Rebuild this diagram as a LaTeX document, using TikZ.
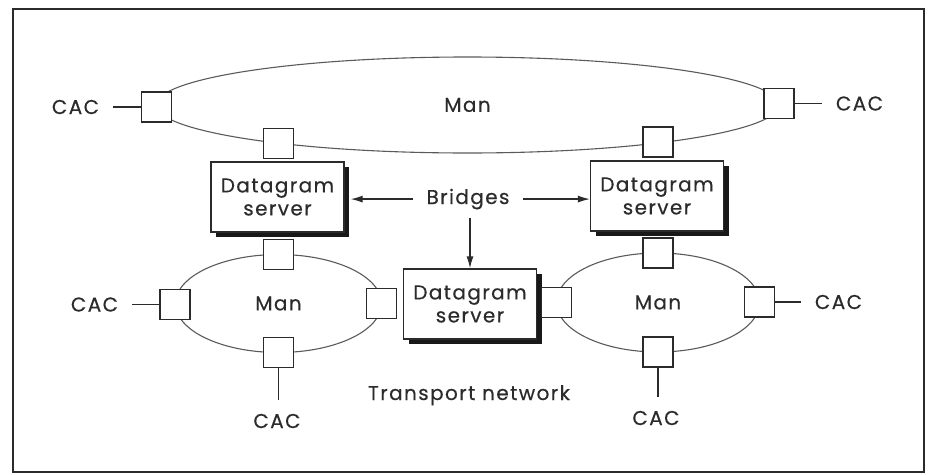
\documentclass[tikz,border=0pt]{standalone}
\usepackage{fontspec}
\setmainfont[LetterSpace=7,FakeBold=0.4]{Poppins}
\usetikzlibrary{shapes.geometric,arrows.meta,shadows}
\definecolor{ink}{HTML}{2B2B2B}
\definecolor{ringc}{HTML}{5A5A5A}
\begin{document}
\begin{tikzpicture}[x=1pt,y=-1pt,
  every node/.style={text=ink, font=\fontsize{20}{23}\selectfont},
  ringn/.style={draw=ringc, line width=1.1pt, ellipse, inner sep=0pt},
  port/.style={draw=ink, fill=white, line width=1.6pt, minimum size=30pt, inner sep=0pt},
  dgs/.style={draw=ink, fill=white, line width=1.3pt, minimum width=133pt, minimum height=70pt, align=center, inner sep=0pt,
    general shadow={fill=black!90, shadow xshift=5pt, shadow yshift=-5pt}},
  cac/.style={inner sep=0pt, outer sep=14pt},
  link/.style={draw=ink, line width=1.1pt},
  arr/.style={draw=ink, line width=1.3pt, -{Latex[length=12pt,width=7pt]}},
]
\useasboundingbox (0,0) rectangle (931,474);
\draw[ink, line width=1.2pt] (13,9) rectangle (924,472);

% rings
\node[ringn, minimum width=623pt, minimum height=96pt] (manT) at (467.5,105) {Man};
\node[ringn, minimum width=206pt, minimum height=98pt] (manL) at (278.5,303.5) {Man};
\node[ringn, minimum width=203pt, minimum height=99pt] (manR) at (658,302.5) {Man};

% datagram servers
\node[dgs] (dgL) at (277.5,197) {Datagram\\server};
\node[dgs] (dgR) at (657,196) {Datagram\\server};
\node[dgs] (dgC) at (470,304) {Datagram\\server};

% ports
\node[port] (pTL) at (156.5,107) {};
\node[port] (pTR) at (779,103.5) {};
\node[port] (pTBL) at (278.5,143.5) {};
\node[port] (pTBR) at (658,142) {};
\node[port] (pLt) at (278.5,254.5) {};
\node[port] (pLl) at (175,304.5) {};
\node[port] (pLr) at (381.5,303.5) {};
\node[port] (pLb) at (278.5,352.5) {};
\node[port] (pRt) at (658,253) {};
\node[port] (pRl) at (556.5,302.5) {};
\node[port] (pRr) at (759.5,302) {};
\node[port] (pRb) at (658,352) {};

% CAC labels
\node[cac] (cTL) at (75.5,107) {CAC};
\node[cac] (cTR) at (859.5,103.5) {CAC};
\node[cac] (cLl) at (94.5,304.5) {CAC};
\node[cac] (cRr) at (838.5,302) {CAC};
\node[cac] (cLb) at (277,421) {CAC};
\node[cac] (cRb) at (656,418) {CAC};

\draw[link] (pTL.west) -- (pTL.west -| cTL.east);
\draw[link] (pTR.east) -- (pTR.east -| cTR.west);
\draw[link] (pLl.west) -- (pLl.west -| cLl.east);
\draw[link] (pRr.east) -- (pRr.east -| cRr.west);
\draw[link] (pLb.south) -- (pLb.south |- cLb.north);
\draw[link] (pRb.south) -- (pRb.south |- cRb.north);

% bridges
\node[anchor=base] (br) at (468,204) {Bridges};
\draw[arr, shorten <=10pt] (br.west) -- ([xshift=6pt]dgL.east |- br.west);
\draw[arr, shorten <=10pt] (br.east) -- (dgR.west |- br.east);
\draw[arr, shorten <=5pt] (br.south -| dgC.north) -- (dgC.north);

\node[anchor=base] (tn) at (469,400) {Transport network};
\end{tikzpicture}
\end{document}
